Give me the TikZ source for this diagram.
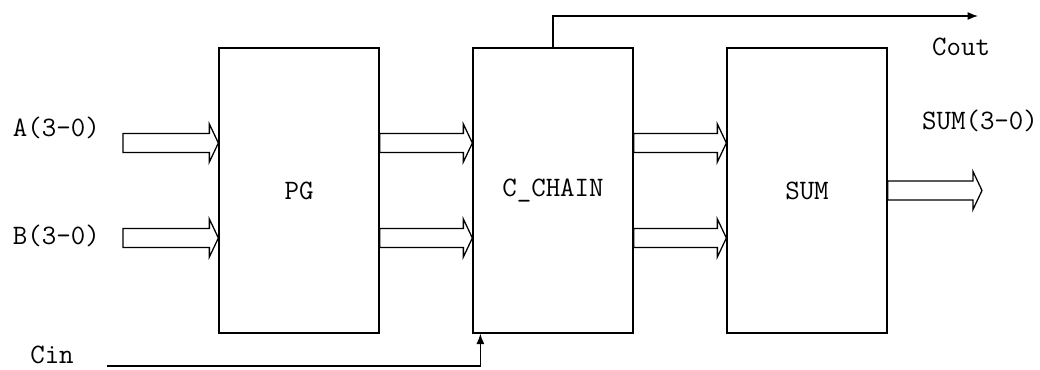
\documentclass[tikz,border=0pt]{standalone}
\usetikzlibrary{calc,arrows.meta}
\begin{document}
\begin{tikzpicture}[
    font=\fontsize{20}{22}\selectfont\ttfamily,
    block/.style={draw, line width=0.9pt, minimum width=4cm, minimum height=7.125cm},
    bus/.style={line width=0.9pt, to path={
        ($(\tikztostart)+(0,0.2375)$) -- ($(\tikztotarget)+(-0.225,0.2375)$) -- ++(0,0.2375)
        -- (\tikztotarget) -- ++(-0.225,-0.475) -- ++(0,0.2375)
        -- ($(\tikztostart)+(0,-0.2375)$) -- cycle}},
    wire/.style={line width=0.9pt, -{Latex[length=2.6mm,width=2mm]}}
]
\useasboundingbox (0,0) rectangle (26,9.225);

% Bloques
\node [block] (pg)  at (7.475,4.4625)  {PG};
\node [block] (cc)  at (13.825,4.4625) {C\_CHAIN};
\node [block] (sum) at (20.175,4.4625) {SUM};

% Entradas
\node (alab) at (1.41,6.03) {A(3-0)};
\node (blab) at (1.41,3.33) {B(3-0)};
\node (cinlab) at (1.3,0.35) {Cin};
\coordinate (ain) at (3.075,5.65);
\coordinate (bin) at (3.075,3.275);
\coordinate (cin) at (2.675,0.075);

% Buses
\draw [bus] (ain) to (ain -| pg.west);
\draw [bus] (bin) to (bin -| pg.west);
\draw [bus] (pg.east |- ain) to (cc.west |- ain);
\draw [bus] (pg.east |- bin) to (cc.west |- bin);
\draw [bus] (cc.east |- ain) to (sum.west |- ain);
\draw [bus] (cc.east |- bin) to (sum.west |- bin);
\coordinate (sumout) at (24.55,4.4625);
\draw [bus] (sum.east) to (sumout);

% Acarreos
\coordinate (cout) at (24.45,8.825);
\draw [wire] (cin) -| ([xshift=0.2cm]cc.south west);
\draw [wire] (cc.north) |- (cout);

% Salidas
\node (coutlab) at (24.03,8.05) {Cout};
\node (sumlab)  at (24.5,6.2)   {SUM(3-0)};
\end{tikzpicture}
\end{document}
